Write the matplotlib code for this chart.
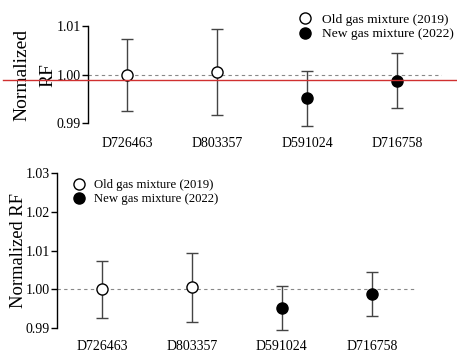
import matplotlib.pyplot as plt
from matplotlib.lines import Line2D

plt.rcParams['font.family'] = ['Liberation Serif', 'DejaVu Serif']

cylinders = ['D726463', 'D803357', 'D591024', 'D716758']
rf = [1.0000, 1.0005, 0.9951, 0.9987]
err_up = [0.0073, 0.0088, 0.0057, 0.0058]
err_down = [0.0074, 0.0089, 0.0057, 0.0056]
is_new = [False, False, True, True]
ref_line = 0.999

fig = plt.figure(figsize=(4.57, 3.54), dpi=100)


def draw_panel(ax, xlim, ylim, yticks):
    x = list(range(len(cylinders)))
    ax.axhline(1.0, color='#888888', lw=0.8, ls=(0, (3, 3)), zorder=1)
    for i in x:
        ax.errorbar(i, rf[i], yerr=[[err_down[i]], [err_up[i]]], fmt='none',
                    ecolor='#444444', elinewidth=1.0, capsize=4, capthick=1.0, zorder=2)
        ax.plot(i, rf[i], 'o', ms=8, mec='black', mew=1.0,
                mfc='black' if is_new[i] else 'white', zorder=3)
    ax.set_xlim(*xlim)
    ax.set_ylim(*ylim)
    ax.set_yticks(yticks)
    ax.set_yticklabels(['%.2f' % t for t in yticks])
    ax.set_xticks(x)
    ax.set_xticklabels(cylinders)
    for s in ['top', 'right', 'bottom']:
        ax.spines[s].set_visible(False)
    ax.spines['left'].set_bounds(yticks[0], yticks[-1])
    ax.spines['left'].set_linewidth(1.0)
    ax.tick_params(axis='y', direction='out', length=4, width=1.0, labelsize=10, pad=1)
    ax.tick_params(axis='x', length=0, labelsize=10, pad=3)
    ax.patch.set_alpha(0)


handles = [
    Line2D([], [], ls='none', marker='o', ms=8, mfc='white', mec='black', mew=1.0),
    Line2D([], [], ls='none', marker='o', ms=8, mfc='black', mec='black', mew=1.0),
]
labels = ['Old gas mixture (2019)', 'New gas mixture (2022)']

# upper panel
ax1 = fig.add_axes([88 / 457, 0.6243, 354 / 457, 0.3297])
draw_panel(ax1, (-0.433, 3.5), (0.988, 1.012), [0.99, 1.00, 1.01])
ax1.set_ylabel('Normalized\nRF', fontsize=14, linespacing=1.65)
ax1.yaxis.set_label_coords(-32 / 354, 0.5)
ax1.legend(handles, labels, loc='upper left', bbox_to_anchor=(292 / 457, 1 - 8 / 354),
           bbox_transform=fig.transFigure, frameon=False, fontsize=9.7,
           handletextpad=0.6, labelspacing=0.15, borderaxespad=0, handlelength=1.2)
ax1.axhline(ref_line, xmin=(3 - 88) / 354, xmax=(457 - 88) / 354,
            color='#d03030', lw=1.0, clip_on=False, zorder=4)

# lower panel
ax2 = fig.add_axes([57 / 457, 0.0525, 358 / 457, 0.4795])
draw_panel(ax2, (-0.5, 3.48), (0.988, 1.032), [0.99, 1.00, 1.01, 1.02, 1.03])
ax2.set_ylabel('Normalized RF', fontsize=13.3)
ax2.yaxis.set_label_coords(-30 / 358, 0.5)
ax2.legend(handles, labels, loc='upper left', bbox_to_anchor=(66 / 457, 1 - 174 / 354),
           bbox_transform=fig.transFigure, frameon=False, fontsize=9.2,
           handletextpad=0.6, labelspacing=0.15, borderaxespad=0, handlelength=1.2)

fig.savefig('out.png', dpi=100)
